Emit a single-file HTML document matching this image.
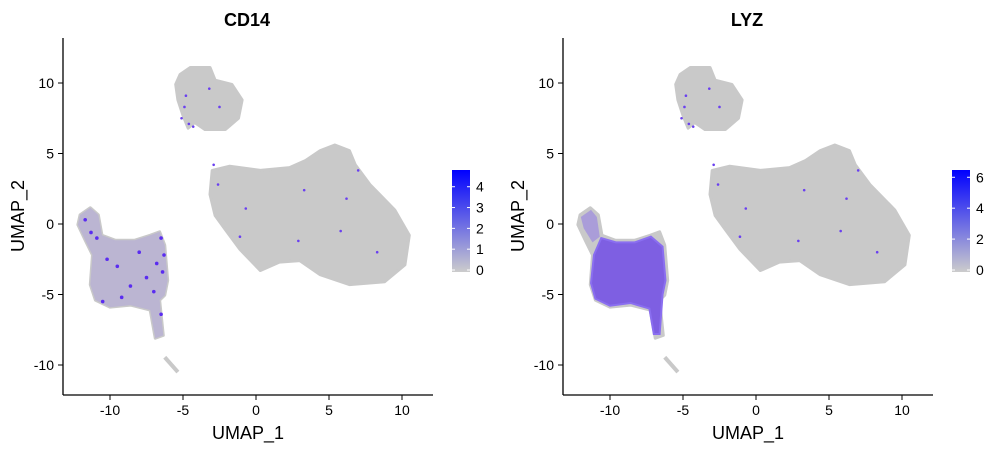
<!DOCTYPE html>
<html><head><meta charset="utf-8"><style>
body{margin:0;background:#fff;}
svg text{font-family:"Liberation Sans",sans-serif;fill:#000;}
</style></head><body>
<svg id="chart" width="1000" height="450" viewBox="0 0 1000 450" xmlns="http://www.w3.org/2000/svg">
<defs>
<linearGradient id="g1" x1="0" y1="1" x2="0" y2="0"><stop offset="0" stop-color="#cccccc"/><stop offset="1" stop-color="#0000ff"/></linearGradient>
</defs>
</svg>
<script>
const panelTitles=["CD14","LYZ"];
const xTicks=[-10,-5,0,5,10];
const yTicks=[-10,-5,0,5,10];
const legendTicks1=[0,1,2,3,4];
const legendTicks2=[0,2,4,6];
const legendMax=[4.9,6.6];
const topCluster=[[-5.2,10.6],[-4.5,11.1],[-3.15,11.1],[-2.8,10.2],[-1.65,9.9],[-0.95,8.8],[-1.2,7.5],[-2.1,6.7],[-3.5,6.7],[-4.2,7.2],[-4.65,6.8],[-5.0,7.7],[-5.35,8.8],[-5.5,9.9]];
const bigCluster=[[-3.0,3.8],[-1.8,4.1],[0.3,3.8],[2.3,4.0],[3.4,4.5],[4.4,5.2],[5.4,5.6],[6.4,5.2],[6.8,4.2],[7.8,2.8],[9.5,1.0],[10.5,-0.8],[10.2,-2.9],[8.8,-4.1],[6.4,-4.3],[4.4,-3.6],[3.0,-2.6],[1.6,-2.7],[0.3,-3.3],[-1.1,-1.8],[-2.1,-0.4],[-2.8,0.6],[-3.15,2.1]];
const leftCluster=[[-12.05,0.65],[-11.35,1.15],[-10.8,0.65],[-10.55,-0.8],[-9.65,-1.15],[-8.3,-1.15],[-7.25,-0.8],[-6.6,-0.55],[-6.25,-1.5],[-6.05,-4.0],[-6.25,-5.05],[-6.6,-5.4],[-6.35,-7.9],[-6.9,-8.1],[-7.25,-6.1],[-8.6,-5.75],[-10.0,-5.9],[-11.0,-5.4],[-11.35,-4.3],[-11.2,-2.2],[-11.7,-1.15],[-12.2,-0.05]];
const tail=[[-6.25,-9.45],[-5.35,-10.5]];
const lyzBody=[[-10.6,-1.0],[-9.6,-1.3],[-8.3,-1.3],[-7.2,-0.9],[-6.4,-1.6],[-6.2,-4.0],[-6.4,-5.0],[-6.6,-7.8],[-7.0,-7.8],[-7.3,-6.0],[-8.6,-5.6],[-10.0,-5.8],[-11.0,-5.3],[-11.3,-4.2],[-11.1,-2.2]];
const lyzArm=[[-12.0,0.5],[-11.3,1.0],[-10.9,0.5],[-10.7,-0.9],[-11.2,-1.3],[-11.8,-0.3]];
const exprDots=[[-4.9,8.3],[-5.1,7.5],[-4.6,7.1],[-4.3,6.9],[-4.8,9.1],[-3.2,9.6],[-2.5,8.3],[-2.9,4.2],[-2.6,2.8],[3.3,2.4],[-0.7,1.1],[-1.1,-0.9],[7.0,3.8],[5.8,-0.5],[8.3,-2.0],[2.9,-1.2],[6.2,1.8]];
const cd14Dots=[[-11.7,0.3],[-11.3,-0.6],[-10.9,-1.0],[-6.5,-1.0],[-6.3,-2.2],[-6.4,-3.4],[-7.0,-4.8],[-9.2,-5.2],[-10.5,-5.5],[-6.5,-6.4],[-8.0,-2.0],[-9.5,-3.0],[-7.5,-3.8],[-10.2,-2.5],[-8.6,-4.4],[-6.8,-2.8]];

const svg=document.getElementById('chart');
const NS='http://www.w3.org/2000/svg';
function mk(tag,attrs,parent){const e=document.createElementNS(NS,tag);for(const k in attrs)e.setAttribute(k,attrs[k]);(parent||svg).appendChild(e);return e;}
const sx=(v,o)=>o+256+14.6*v;
const sy=v=>224-14.1*v;
function pts(arr,o){return arr.map(p=>sx(p[0],o)+','+sy(p[1])).join(' ');}

panelTitles.forEach((t,i)=>{
  const o=i*500;
  const g=mk('g',{});
  
  
  [topCluster,bigCluster,leftCluster].forEach((c,ci)=>{
    const p=mk('polygon',{points:pts(c,o),fill:'#c9c9c9',stroke:'#c9c9c9','stroke-width':3,'stroke-linejoin':'round'},g);
    
    
  });
  const tl=mk('polyline',{points:pts(tail,o),stroke:'#c9c9c9','stroke-width':4,fill:'none'},g);
  
  
  if(i===0){
    const ov=mk('polygon',{points:pts(leftCluster,o),fill:'#8a6cf0','fill-opacity':0.22},g);
    
    
    cd14Dots.forEach(d=>{const c=mk('circle',{cx:sx(d[0],o),cy:sy(d[1]),r:1.8,fill:'#5a2cf0'},g);
      
      });
  } else {
    const b=mk('polygon',{points:pts(lyzBody,o),fill:'#6b45e8','fill-opacity':0.8,stroke:'#8a6ef0','stroke-width':2},g);
    
    
    const a=mk('polygon',{points:pts(lyzArm,o),fill:'#8f78e6','fill-opacity':0.55},g);
    
    
  }
  exprDots.forEach(d=>{const c=mk('circle',{cx:sx(d[0],o),cy:sy(d[1]),r:1.3,fill:'#6a40f0'},g);
    
    });
  const ax=mk('line',{x1:o+63,y1:395,x2:o+433,y2:395,stroke:'#000','stroke-width':1.3},g);
  
  
  const ay=mk('line',{x1:o+63,y1:38,x2:o+63,y2:395,stroke:'#000','stroke-width':1.3},g);
  
  
  xTicks.forEach(v=>{
    mk('line',{x1:sx(v,o),x2:sx(v,o),y1:395,y2:400,stroke:'#000'},g);
    const tx=mk('text',{x:sx(v,o),y:415,'text-anchor':'middle','font-size':14,fill:'#222'},g);tx.textContent=v;
    
    
  });
  yTicks.forEach(v=>{
    mk('line',{x1:o+58,x2:o+63,y1:sy(v),y2:sy(v),stroke:'#000'},g);
    const tx=mk('text',{x:o+54,y:sy(v)+5,'text-anchor':'end','font-size':14,fill:'#222'},g);tx.textContent=v;
    
    
  });
  const tt=mk('text',{x:o+247,y:26,'text-anchor':'middle','font-size':18,'font-weight':'bold'},g);tt.textContent=t;
  
  
  const xl=mk('text',{x:o+248,y:439,'text-anchor':'middle','font-size':18},g);xl.textContent='UMAP_1';
  
  
  const yl=mk('text',{x:0,y:0,'text-anchor':'middle','font-size':18,transform:'translate('+(o+24)+',216) rotate(-90)'},g);yl.textContent='UMAP_2';
  
  
  const lt=i===0?legendTicks1:legendTicks2;
  const lx=o+452, top=170, bot=272, mx=legendMax[i];
  const lb=mk('rect',{x:lx,y:top,width:18,height:bot-top,fill:'url(#g1)'},g);
  
  
  lt.forEach(v=>{
    const yy=bot-(v/mx)*(bot-top)-2;
    mk('line',{x1:lx,x2:lx+3,y1:yy,y2:yy,stroke:'#fff'},g);
    mk('line',{x1:lx+15,x2:lx+18,y1:yy,y2:yy,stroke:'#fff'},g);
    const tx=mk('text',{x:lx+24,y:yy+5,'font-size':14,fill:'#222'},g);tx.textContent=v;
    
    
  });
});
</script>
</body></html>
